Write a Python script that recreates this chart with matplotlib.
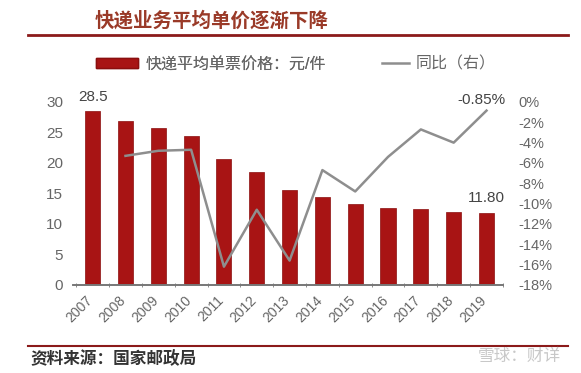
import matplotlib.pyplot as plt
import matplotlib.transforms as mtransforms
from matplotlib.lines import Line2D
from matplotlib.patches import Patch

plt.rcParams['font.family'] = ['Liberation Sans', 'Noto Sans CJK SC', 'DejaVu Sans']

years = ["2007", "2008", "2009", "2010", "2011", "2012", "2013",
         "2014", "2015", "2016", "2017", "2018", "2019"]
price = [28.5, 26.9, 25.8, 24.5, 20.6, 18.5, 15.6,
         14.5, 13.3, 12.7, 12.4, 12.0, 11.8]
yoy_years = years[1:]
yoy = [-5.3, -4.8, -4.7, -16.2, -10.6, -15.6,
       -6.7, -8.8, -5.4, -2.7, -4.0, -0.85]

bar_color = "#A81414"
line_color = "#8E8E8E"
text_gray = "#666666"
rule_color = "#8B1A1A"

fig = plt.figure(figsize=(5.81, 3.73), dpi=100)
ax = fig.add_axes([0.1256, 0.236, 0.74, 0.4906])
ax2 = ax.twinx()

x = list(range(len(years)))
ax.bar(x, price, width=0.46, color=bar_color, edgecolor="#8A0E0E", linewidth=0.5, zorder=2)
ax.set_ylim(0, 30)
ax.set_xlim(-0.6, 12.5)
ax.set_yticks([0, 5, 10, 15, 20, 25, 30])
ax.set_xticks(x)
ax.set_xticklabels(years, rotation=45, ha="right", rotation_mode="anchor")
ax.set_xticks([i + 0.5 for i in range(-1, 13)], minor=True)
ax.tick_params(axis="x", which="major", length=0, pad=6, labelsize=10, colors=text_gray)
ax.tick_params(axis="x", which="minor", length=3, direction="inout", color="#777777")
ax.tick_params(axis="y", length=0, labelsize=11, colors=text_gray, pad=7)
shift = mtransforms.ScaledTranslation(-0.07, 0, fig.dpi_scale_trans)
for lab in ax.get_xticklabels():
    lab.set_transform(lab.get_transform() + shift)

xi = [years.index(y) for y in yoy_years]
ax2.plot(xi, yoy, color=line_color, linewidth=1.8, zorder=3)
ax2.set_ylim(-18, 0)
ax2.set_yticks(list(range(-18, 1, 2)))
ax2.set_yticklabels([f"{v}%" for v in range(-18, 1, 2)])
ax2.tick_params(axis="y", length=0, labelsize=10.5, colors=text_gray, pad=11)

for a in (ax, ax2):
    for s in ["top", "left", "right"]:
        a.spines[s].set_visible(False)
    a.spines["bottom"].set_color("#777777")
    a.spines["bottom"].set_linewidth(1.2)

ax.text(0, price[0] + 1.2, "28.5", ha="center", va="bottom", fontsize=11, color="#444444")
ax.text(12, price[-1] + 1.3, "11.80", ha="center", va="bottom", fontsize=11, color="#444444")
ax2.text(11.85, yoy[-1] + 0.35, "-0.85%", ha="center", va="bottom", fontsize=11, color="#444444")

leg1 = fig.legend([Patch(facecolor=bar_color, edgecolor="#8A0E0E")], ["快递平均单票价格：元/件"],
                  loc="center left", bbox_to_anchor=(0.166, 0.828), frameon=False,
                  fontsize=11.5, labelcolor=text_gray, handlelength=2.6, handleheight=0.5,
                  handletextpad=0.45, borderaxespad=0, borderpad=0)
fig.legend([Line2D([0], [0], color=line_color, linewidth=1.8)], ["同比（右）"],
           loc="center left", bbox_to_anchor=(0.657, 0.828), frameon=False,
           fontsize=11.5, labelcolor=text_gray, handlelength=1.7,
           handletextpad=0.4, borderaxespad=0, borderpad=0)
fig.add_artist(leg1)

fig.text(0.163, 0.945, "快递业务平均单价逐渐下降", fontsize=14, fontweight="bold",
         color="#9A3A28", va="center", ha="left", family=["Noto Sans CJK SC"])
fig.add_artist(Line2D([0.048, 0.978], [0.905, 0.905], color=rule_color, linewidth=2))
fig.add_artist(Line2D([0.048, 0.978], [0.072, 0.072], color=rule_color, linewidth=1.5))
fig.text(0.052, 0.038, "资料来源：国家邮政局", fontsize=12, fontweight="bold",
         color="#333333", va="center", ha="left", family=["Noto Sans CJK SC"])
fig.text(0.965, 0.045, "雪球：财详", fontsize=12, color="#C8C8C8",
         va="center", ha="right", family=["Noto Sans CJK SC"])

fig.savefig("out.png", dpi=100)
